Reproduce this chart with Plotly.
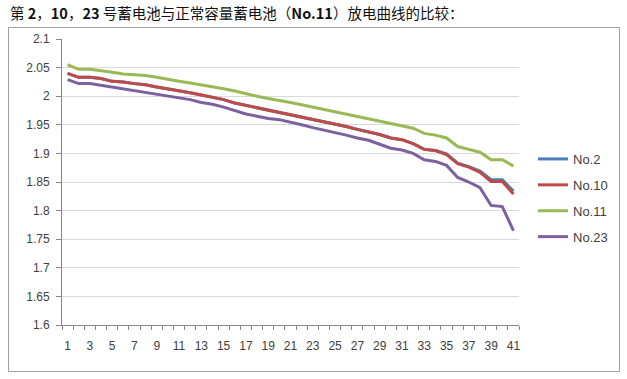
import plotly.graph_objects as go

x_cats = list(range(1, 42))
tick_vals = list(range(1, 42, 2))
tick_text = [str(v) for v in tick_vals]

no10 = [2.040, 2.033, 2.033, 2.031, 2.026, 2.025, 2.022, 2.020, 2.016, 2.013,
        2.009, 2.006, 2.002, 1.998, 1.994, 1.988, 1.984, 1.979, 1.976, 1.972,
        1.968, 1.964, 1.960, 1.956, 1.952, 1.947, 1.942, 1.938, 1.933, 1.927,
        1.924, 1.917, 1.907, 1.905, 1.898, 1.882, 1.876, 1.867, 1.851, 1.851,
        1.829]
no2 = [2.040, 2.033, 2.033, 2.031, 2.026, 2.025, 2.022, 2.020, 2.016, 2.013,
       2.009, 2.006, 2.002, 1.998, 1.994, 1.988, 1.984, 1.979, 1.976, 1.972,
       1.968, 1.964, 1.960, 1.956, 1.952, 1.947, 1.942, 1.938, 1.933, 1.927,
       1.924, 1.917, 1.907, 1.905, 1.899, 1.883, 1.877, 1.869, 1.854, 1.854,
       1.834]
no11 = [2.055, 2.047, 2.047, 2.045, 2.042, 2.039, 2.038, 2.036, 2.033, 2.029,
        2.026, 2.023, 2.020, 2.017, 2.013, 2.009, 2.004, 2.000, 1.996, 1.993,
        1.989, 1.985, 1.981, 1.977, 1.973, 1.969, 1.965, 1.961, 1.957, 1.953,
        1.949, 1.944, 1.935, 1.932, 1.927, 1.912, 1.907, 1.902, 1.889, 1.889,
        1.878]
no23 = [2.029, 2.022, 2.022, 2.019, 2.015, 2.013, 2.010, 2.007, 2.004, 2.001,
        1.997, 1.994, 1.989, 1.986, 1.981, 1.975, 1.969, 1.965, 1.961, 1.959,
        1.955, 1.950, 1.945, 1.941, 1.937, 1.932, 1.927, 1.923, 1.916, 1.909,
        1.906, 1.900, 1.889, 1.886, 1.879, 1.858, 1.850, 1.840, 1.809, 1.807,
        1.765]

series = [("No.2", no2, "#4a7ebb"), ("No.10", no10, "#be4b48"),
          ("No.11", no11, "#98b954"), ("No.23", no23, "#7d60a0")]

fig = go.Figure()
for name, vals, col in series:
    fig.add_trace(go.Scatter(x=x_cats, y=vals, mode="lines", name=name,
                             legendgroup=name,
                             line=dict(color=col, width=3)))

W, H = 627, 379
L, R, T, B = 62, 108, 39, 54
pw, ph = W - L - R, H - T - B

def px(xp):
    return (xp - L) / pw

def py(yp):
    return (H - B - yp) / ph

fig.update_layout(
    width=W, height=H,
    margin=dict(l=L, r=R, t=T, b=B, pad=0),
    paper_bgcolor="white", plot_bgcolor="white",
    font=dict(family="Liberation Sans, Arial, sans-serif", size=12, color="#404040"),
    showlegend=True,
    legend=dict(x=px(533), y=py(144), xanchor="left", yanchor="top",
                font=dict(size=13, color="#404040"), tracegroupgap=6,
                bgcolor="rgba(0,0,0,0)", itemwidth=30),
    xaxis=dict(range=[0.5, 41.5], tickmode="array", tickvals=tick_vals,
               ticktext=tick_text, ticks="", showgrid=False, zeroline=False,
               showline=True, linecolor="#868686", linewidth=1,
               ticklabelstandoff=10,
               minor=dict(tickmode="linear", tick0=0.5, dtick=1, ticks="outside",
                          ticklen=4, tickcolor="#868686", showgrid=False),
               fixedrange=True),
    yaxis=dict(range=[1.6, 2.1], tickmode="array",
               tickvals=[1.6, 1.65, 1.7, 1.75, 1.8, 1.85, 1.9, 1.95, 2.0, 2.05, 2.1],
               ticktext=["1.6", "1.65", "1.7", "1.75", "1.8", "1.85", "1.9",
                         "1.95", "2", "2.05", "2.1"],
               ticks="outside", ticklen=5, tickcolor="#868686",
               showgrid=True, gridcolor="#d9d9d9", gridwidth=1,
               zeroline=False, showline=True, linecolor="#868686", linewidth=1,
               ticklabelstandoff=4, fixedrange=True),
)

# chart border
fig.add_shape(type="rect", xref="paper", yref="paper",
              x0=px(8.5), x1=px(619.5), y0=py(371.5), y1=py(27.5),
              line=dict(color="#a0a0a0", width=1), fillcolor="rgba(0,0,0,0)",
              layer="above")

fig.add_annotation(
    xref="paper", yref="paper", x=px(8), y=py(12), xanchor="left", yanchor="middle",
    showarrow=False,
    text="第 <b>2</b>，<b>10</b>，<b>23</b> 号蓄电池与正常容量蓄电池（<b>No.11</b>）放电曲线的比较：",
    font=dict(family="Noto Sans CJK SC, sans-serif", size=14.5, color="#111111"))

fig.write_html("out.html", config={"displayModeBar": False},
               post_script="document.body.style.margin='0';document.body.style.overflow='hidden';")
